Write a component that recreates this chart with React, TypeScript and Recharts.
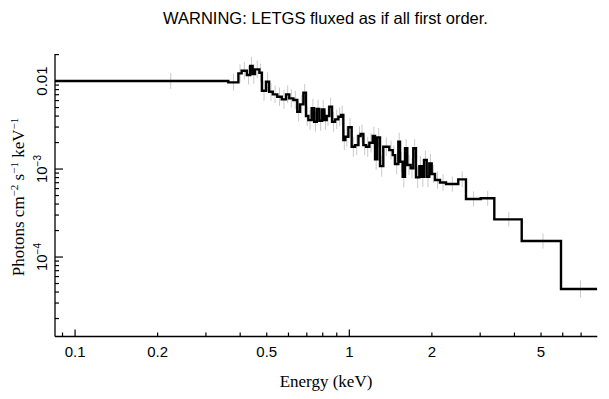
import { ComposedChart, Line, Scatter, ErrorBar, XAxis, YAxis } from 'recharts';

// bin edges (keV) of the fluxed spectrum, one more than the flux values
const BIN_EDGES = [
  0.0845, 0.362, 0.394, 0.405, 0.423, 0.435, 0.444, 0.453, 0.47, 0.48,
  0.497, 0.51, 0.526, 0.546, 0.567, 0.588, 0.604, 0.625, 0.646, 0.661,
  0.68, 0.695, 0.709, 0.729, 0.744, 0.761, 0.777, 0.795, 0.811, 0.827,
  0.845, 0.865, 0.887, 0.912, 0.933, 0.951, 0.967, 0.992, 1.02, 1.049,
  1.079, 1.1, 1.125, 1.151, 1.183, 1.217, 1.241, 1.265, 1.294, 1.33,
  1.399, 1.44, 1.468, 1.509, 1.531, 1.565, 1.596, 1.627, 1.674, 1.711,
  1.75, 1.8, 1.836, 1.872, 1.915, 1.957, 1.997, 2.053, 2.141, 2.252,
  2.496, 2.663, 3.013, 3.378, 4.252, 5.913, 8.02,
];

// photons cm^-2 s^-1 keV^-1
const FLUX = [
  0.01, 0.00967, 0.01223, 0.0131, 0.0117, 0.01481, 0.01201, 0.01358, 0.01243, 0.00776,
  0.00982, 0.00756, 0.00706, 0.00663, 0.00619, 0.00706, 0.00636, 0.00608, 0.00448, 0.00543,
  0.00736, 0.004, 0.0036, 0.0049, 0.00345, 0.00481, 0.00354, 0.00477, 0.0036, 0.004,
  0.00511, 0.00345, 0.00367, 0.00393, 0.00411, 0.00214, 0.00233, 0.00298, 0.00179, 0.00187,
  0.00237, 0.0025, 0.00187, 0.00179, 0.00199, 0.00237, 0.00129, 0.00229, 0.00108, 0.00179,
  0.00164, 0.00144, 0.00114, 0.00204, 0.00121, 0.000818, 0.00172, 0.00111, 0.00102, 0.00172,
  0.000805, 0.00108, 0.000818, 0.00127, 0.000818, 0.00116, 0.000877, 0.00075, 0.000702, 0.000675,
  0.000764, 0.000456, 0.000465, 0.000268, 0.000152, 0.0000433,
];

// multiplicative 1-sigma error per bin
const ERR_FACTOR = [
  1.23, 1.25, 1.27, 1.26, 1.28, 1.27, 1.29, 1.26, 1.27, 1.3,
  1.28, 1.27, 1.26, 1.27, 1.28, 1.26, 1.27, 1.27, 1.3, 1.28,
  1.26, 1.3, 1.29, 1.28, 1.3, 1.28, 1.3, 1.28, 1.29, 1.29,
  1.27, 1.3, 1.29, 1.28, 1.28, 1.3, 1.3, 1.28, 1.3, 1.3,
  1.29, 1.28, 1.3, 1.3, 1.29, 1.28, 1.32, 1.28, 1.32, 1.28,
  1.28, 1.29, 1.31, 1.27, 1.3, 1.32, 1.27, 1.3, 1.3, 1.27,
  1.32, 1.3, 1.31, 1.28, 1.31, 1.28, 1.27, 1.26, 1.25, 1.22,
  1.23, 1.22, 1.22, 1.21, 1.22, 1.25,
];

const X_TICKS = [0.09, 0.1, 0.2, 0.3, 0.4, 0.5, 0.6, 0.7, 0.8, 0.9, 1, 2, 3, 4, 5, 6, 7];
const X_MAJOR = [0.1, 1];
const X_LABELS = [0.1, 0.2, 0.5, 1, 2, 5];

const Y_TICKS = [
  2e-5, 3e-5, 4e-5, 5e-5, 6e-5, 7e-5, 8e-5, 9e-5,
  1e-4, 2e-4, 3e-4, 4e-4, 5e-4, 6e-4, 7e-4, 8e-4, 9e-4,
  1e-3, 2e-3, 3e-3, 4e-3, 5e-3, 6e-3, 7e-3, 8e-3, 9e-3,
  0.01, 0.02,
];
const Y_MAJOR = [1e-4, 1e-3, 0.01];
const Y_LABELS: Record<string, [string, string]> = {
  '0.01': ['0.01', ''],
  '0.001': ['10', '−3'],
  '0.0001': ['10', '−4'],
};

const X_DOMAIN = [0.0845, 8.02];
const Y_DOMAIN = [1.25e-5, 0.0203];

const SANS = "'Liberation Sans', Arial, Helvetica, sans-serif";
const SERIF = "'Liberation Serif', 'Times New Roman', serif";

const stepData = BIN_EDGES.map((e, i) => ({
  energy: e,
  flux: FLUX[Math.min(i, FLUX.length - 1)],
}));

const pointData = FLUX.map((f, i) => {
  const k = ERR_FACTOR[i];
  return {
    energy: (BIN_EDGES[i] + BIN_EDGES[i + 1]) / 2,
    flux: f,
    err: [f - f / k, f * k - f],
  };
});

function XTick(props: any) {
  const { x, y, payload, side } = props;
  const v = payload.value;
  const len = X_MAJOR.includes(v) ? 7 : 4;
  const dir = side === 'top' ? 1 : -1;
  return (
    <g>
      <line x1={x} y1={y} x2={x} y2={y + dir * len} stroke="#000" strokeWidth={1.2} />
      {side === 'bottom' && X_LABELS.includes(v) && (
        <text x={x} y={y + 20} textAnchor="middle" fontFamily={SANS} fontSize={15} fill="#000">
          {v}
        </text>
      )}
    </g>
  );
}

function YTick(props: any) {
  const { x, y, payload, side } = props;
  const v = payload.value;
  const len = Y_MAJOR.includes(v) ? 8 : 4;
  const dir = side === 'right' ? -1 : 1;
  const label = Y_LABELS[String(v)];
  const lx = x - 8;
  return (
    <g>
      <line x1={x} y1={y} x2={x + dir * len} y2={y} stroke="#000" strokeWidth={1.2} />
      {side === 'left' && label && (
        <text
          x={lx}
          y={y}
          transform={`rotate(-90, ${lx}, ${y})`}
          textAnchor="middle"
          fontFamily={SANS}
          fontSize={15}
          fill="#000"
        >
          {label[0]}
          {label[1] && (
            <tspan dy={-6} fontSize={10}>
              {label[1]}
            </tspan>
          )}
        </text>
      )}
    </g>
  );
}

export default function App() {
  return (
    <div style={{ position: 'absolute', left: 0, top: 0, width: 609, height: 399, background: '#fff' }}>
      <ComposedChart width={609} height={399} margin={{ top: 54, right: 11.7, bottom: 0, left: 0 }}>
        <XAxis
          dataKey="energy"
          type="number"
          scale="log"
          domain={X_DOMAIN}
          allowDataOverflow
          ticks={X_TICKS}
          interval={0}
          height={62.5}
          tickSize={0}
          tickMargin={0}
          tickLine={false}
          axisLine={{ stroke: '#000', strokeWidth: 1.3 }}
          tick={(p: any) => <XTick {...p} side="bottom" />}
        />
        <XAxis
          xAxisId="top"
          orientation="top"
          dataKey="energy"
          type="number"
          scale="log"
          domain={X_DOMAIN}
          allowDataOverflow
          ticks={X_TICKS}
          interval={0}
          height={0}
          tickSize={0}
          tickMargin={0}
          tickLine={false}
          axisLine={{ stroke: '#000', strokeWidth: 1.3 }}
          tick={(p: any) => <XTick {...p} side="top" />}
        />
        <YAxis
          dataKey="flux"
          type="number"
          scale="log"
          domain={Y_DOMAIN}
          allowDataOverflow
          ticks={Y_TICKS}
          interval={0}
          width={55}
          tickSize={0}
          tickMargin={0}
          tickLine={false}
          axisLine={{ stroke: '#000', strokeWidth: 1.3 }}
          tick={(p: any) => <YTick {...p} side="left" />}
        />
        <YAxis
          yAxisId="right"
          orientation="right"
          dataKey="flux"
          type="number"
          scale="log"
          domain={Y_DOMAIN}
          allowDataOverflow
          ticks={Y_TICKS}
          interval={0}
          width={0}
          tickSize={0}
          tickMargin={0}
          tickLine={false}
          axisLine={{ stroke: '#000', strokeWidth: 1.3 }}
          tick={(p: any) => <YTick {...p} side="right" />}
        />
        <Scatter data={pointData} dataKey="flux" fill="none" isAnimationActive={false}>
          <ErrorBar dataKey="err" direction="y" width={0} stroke="#cacaca" strokeWidth={1} />
        </Scatter>
        <Line
          data={stepData}
          dataKey="flux"
          type="stepAfter"
          stroke="#000"
          strokeWidth={2.4}
          dot={false}
          activeDot={false}
          isAnimationActive={false}
        />
        <text x={325.5} y={24} textAnchor="middle" fontFamily={SANS} fontSize={16.5} fill="#000">
          WARNING: LETGS fluxed as if all first order.
        </text>
        <text x={326} y={387} textAnchor="middle" fontFamily={SERIF} fontSize={17} fill="#000">
          Energy (keV)
        </text>
        <text
          x={24}
          y={197}
          transform="rotate(-90, 24, 197)"
          textAnchor="middle"
          fontFamily={SERIF}
          fontSize={17}
          fill="#000"
        >
          Photons cm
          <tspan dy={-6} fontSize={11}>−2</tspan>
          <tspan dy={6}> s</tspan>
          <tspan dy={-6} fontSize={11}>−1</tspan>
          <tspan dy={6}> keV</tspan>
          <tspan dy={-6} fontSize={11}>−1</tspan>
        </text>
      </ComposedChart>
    </div>
  );
}
